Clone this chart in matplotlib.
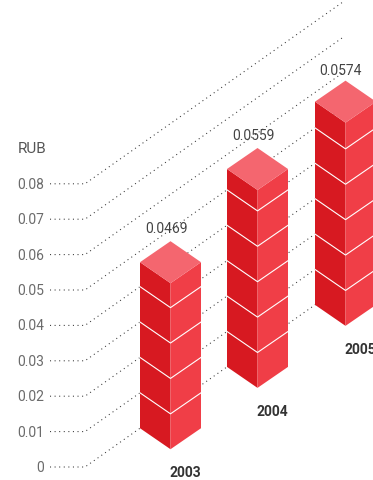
import matplotlib
matplotlib.use("Agg")
import matplotlib.pyplot as plt

plt.rcParams['font.family'] = ['Roboto', 'DejaVu Sans']

years = ["2003", "2004", "2005"]
values = [0.0469, 0.0559, 0.0574]
value_labels = ["0.0469", "0.0559", "0.0574"]
ticks = [0, 0.01, 0.02, 0.03, 0.04, 0.05, 0.06, 0.07, 0.08]
tick_labels = ["0", "0.01", "0.02", "0.03", "0.04", "0.05", "0.06", "0.07", "0.08"]

# layout, in pixels
W, H = 373, 480
Y0 = 467          # pixel row of value 0
PX = 3540         # pixels per 1 RUB
SLOPE = 0.705     # rise of the receding axis, px per px
bar_left = [140, 227, 315]
label_gap = [12, 12, 9.5]
half_w = 30.5
half_h = 21

LEFT = "#d71921"
RIGHT = "#f03e47"
TOP = "#f4666f"


def to_val(px):
    # pixel row -> value
    return (Y0 - px) / PX


fig = plt.figure(figsize=(W / 100, H / 100), dpi=100)
ax = fig.add_axes([0, 0, 1, 1])
ax.set_xlim(0, W)
ax.set_ylim(to_val(H), to_val(0))
ax.axis("off")


def base(x, v):
    # value v on the receding axis at pixel column x
    return v + (x - 85) * SLOPE / PX


dy = half_h / PX
nudge = 1 / PX    # text sits 1px lower than its anchor

# dotted guide lines
for t, lab in zip(ticks, tick_labels):
    ax.plot([50, 85, 344], [t, t, base(344, t)], color="#333333", lw=0.75,
            ls=(0, (1, 3.4)), zorder=1)
    ax.text(44, t - nudge, lab, ha="right", va="center", fontsize=10, color="#6b6b6b")

ax.text(18, to_val(149), "RUB", ha="left", va="center", fontsize=11, color="#555555")

# bars
for x, v, vl, yr, gap in zip(bar_left, values, value_labels, years, label_gap):
    b = base(x, 0)
    top = b + v
    xm = x + half_w
    xr = x + 2 * half_w
    ax.fill([x, xm, xm, x], [b, b - dy, top - dy, top], color=LEFT, lw=0, zorder=2)
    ax.fill([xm, xr, xr, xm], [b - dy, b, top, top - dy], color=RIGHT, lw=0, zorder=2)
    ax.fill([x, xm, xr, xm], [top, top + dy, top, top - dy], color=TOP, lw=0, zorder=2)
    # white bands every 0.01
    for t in ticks[1:]:
        if t < v:
            ax.plot([x, xm, xr], [b + t, b + t - dy, b + t], color="white", lw=0.8,
                    zorder=3, solid_joinstyle="miter")
    ax.text(x + 26, top + dy + gap / PX, vl, ha="center", va="center", fontsize=10,
            color="#444444", zorder=4)
    ax.text(x + 45, b - dy - 24 / PX, yr, ha="center", va="center", fontsize=10,
            fontweight="bold", color="#333333", zorder=4)

fig.savefig("out.png", dpi=100)
